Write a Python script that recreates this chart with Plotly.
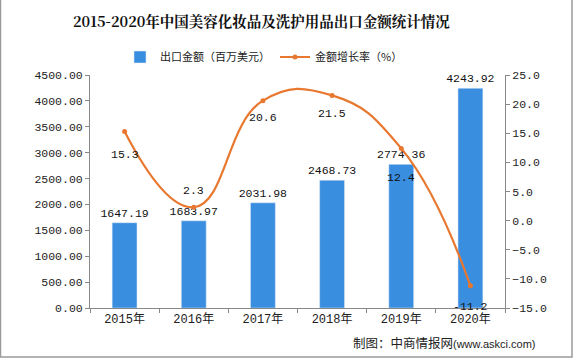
import plotly.graph_objects as go

years = ["2015年", "2016年", "2017年", "2018年", "2019年", "2020年"]
export_value = [1647.19, 1683.97, 2031.98, 2468.73, 2774.36, 4243.92]
growth_rate = [15.3, 2.3, 20.6, 21.5, 12.4, -11.2]
growth_label_shift = [-23, 17, -17, -18, -29, -21]

bar_name = "出口金额（百万美元）"
line_name = "金额增长率（%）"
title_text = "2015-2020年中国美容化妆品及洗护用品出口金额统计情况"
source_text = "制图：中商情报网<span style='font-size:11px;font-family:Liberation Sans'>(www.askci.com)</span>"

mono = "Liberation Mono, Noto Sans CJK SC"
cjk = "Noto Sans CJK SC"

fig = go.Figure()
fig.add_trace(go.Bar(
    x=years, y=export_value, name=bar_name,
    marker_color="#3A8EE0", width=0.36,
    text=[f"{v:.2f}" for v in export_value], textposition="outside",
    constraintext="none",
    textfont=dict(family=mono, size=11.5, color="#111"),
    cliponaxis=False,
))
fig.add_trace(go.Scatter(
    x=years, y=growth_rate, name=line_name, yaxis="y2",
    mode="lines+markers",
    line=dict(color="#E8782F", width=2.2, shape="spline", smoothing=1.3),
    marker=dict(color="#E8782F", size=5),
))

for yr, g, s in zip(years, growth_rate, growth_label_shift):
    fig.add_annotation(x=yr, y=g, yref="y2", xref="x", text=f"{g:.1f}",
                       showarrow=False, yshift=s,
                       font=dict(family=mono, size=11.5, color="#111"))

fig.add_annotation(xref="paper", yref="paper", x=(261 - 90) / 415, y=1 + (75 - 21) / 233,
                   text=f"<b>{title_text}</b>", showarrow=False,
                   font=dict(family="Noto Serif CJK SC, Noto Sans CJK SC", size=14.5, color="#111"),
                   xanchor="center", yanchor="middle")
fig.add_annotation(xref="paper", yref="paper", x=(538 - 90) / 415, y=-(342 - 308) / 233,
                   text=source_text, showarrow=False,
                   font=dict(family=cjk, size=12.5, color="#222"),
                   xanchor="right", yanchor="middle")

fig.add_shape(type="rect", xref="paper", yref="paper",
              x0=-89.5 / 415, x1=(572 - 90) / 415, y0=-(357 - 308) / 233, y1=1 + 80 / 233,
              line=dict(color="#9a9a9a", width=1.5), layer="below")

fig.update_layout(
    width=576, height=359,
    margin=dict(l=90, r=71, t=75, b=51),
    paper_bgcolor="white", plot_bgcolor="white",
    showlegend=True,
    legend=dict(orientation="h", x=(120 - 90) / 415, xanchor="left",
                y=1 + (75 - 57) / 233, yanchor="middle",
                font=dict(family=cjk, size=11, color="#222"),
                itemwidth=30, tracegroupgap=0, bgcolor="rgba(0,0,0,0)"),
    bargap=0.64,
    xaxis=dict(showline=True, linecolor="#888", linewidth=1, ticks="outside",
               tickson="boundaries", ticklen=4, tickcolor="#888",
               tickfont=dict(family=mono, size=12, color="#222"), showgrid=False),
    yaxis=dict(range=[0, 4500], dtick=500, tickformat=".2f", showline=True,
               linecolor="#888", ticks="outside", ticklen=4, tickcolor="#888",
               showgrid=False, zeroline=False,
               tickfont=dict(family=mono, size=11.5, color="#222")),
    yaxis2=dict(range=[-15, 25], dtick=5, tickformat=".1f", overlaying="y", side="right",
                showline=True, linecolor="#888", ticks="outside", ticklen=4,
                tickcolor="#888", showgrid=False, zeroline=False,
                tickfont=dict(family=mono, size=11.5, color="#222")),
)

fig.write_html("out.html", config={"displayModeBar": False},
               post_script="document.body.style.margin='0';")
